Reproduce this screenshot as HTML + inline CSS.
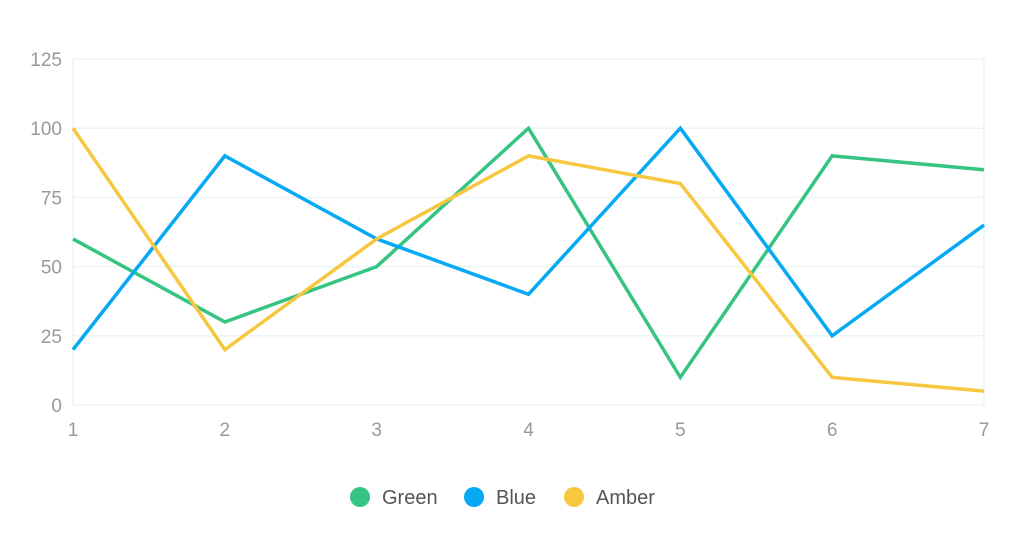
<!DOCTYPE html>
<html><head><meta charset="utf-8"><style>
body{margin:0;background:#fff;width:1034px;height:538px;overflow:hidden}
svg{font-family:"Liberation Sans",sans-serif}
</style></head><body>
<svg id="chart" width="1034" height="538" viewBox="0 0 1034 538"></svg>
<script>
const categories=[1,2,3,4,5,6,7];
const yTicks=[0,25,50,75,100,125];
const greenValues=[60,30,50,100,10,90,85];
const blueValues=[20,90,60,40,100,25,65];
const amberValues=[100,20,60,90,80,10,5];
const seriesNames=["Green","Blue","Amber"];
const seriesColors=["#35c481","#05a9f4","#f6c73f"];
const NS="http://www.w3.org/2000/svg";
const svg=document.getElementById('chart');
const x0=73,x1=984,y0=405,y1=59;
const xs=i=>x0+(x1-x0)*i/(categories.length-1);
const ys=v=>y0-(y0-y1)*v/125;
function mk(t,a){const e=document.createElementNS(NS,t);for(const k in a)e.setAttribute(k,a[k]);svg.appendChild(e);return e;}
yTicks.forEach(v=>{
  const l=mk('line',{x1:x0,x2:x1,y1:ys(v),y2:ys(v),stroke:'#eaf6f6','stroke-width':1.5});
  
  
  const t=mk('text',{x:62,y:ys(v)+7,'text-anchor':'end','font-size':19,fill:'#999'});
  t.textContent=v;
  
  
});
categories.forEach((c,i)=>{
  const l=mk('line',{x1:xs(i),x2:xs(i),y1:y1,y2:y0,stroke:i==0||i==categories.length-1?'#eaf6f6':'none','stroke-width':1.5});
  
  
  const t=mk('text',{x:xs(i),y:436,'text-anchor':'middle','font-size':19,fill:'#999'});
  t.textContent=c;
  
  
});
[greenValues,blueValues,amberValues].forEach((vals,s)=>{
  const p=mk('polyline',{points:vals.map((v,i)=>xs(i)+','+ys(v)).join(' '),fill:'none',stroke:seriesColors[s],'stroke-width':3.5,'stroke-linejoin':'miter'});
  
  
});
const lx=[360,474,574];
seriesNames.forEach((n,s)=>{
  const g=mk('g',{});
  
  
  const c=document.createElementNS(NS,'circle');
  c.setAttribute('cx',lx[s]);c.setAttribute('cy',497);c.setAttribute('r',10);c.setAttribute('fill',seriesColors[s]);
  g.appendChild(c);
  const t=document.createElementNS(NS,'text');
  t.setAttribute('x',lx[s]+22);t.setAttribute('y',504);t.setAttribute('font-size',20);t.setAttribute('fill','#555');
  t.textContent=n;
  g.appendChild(t);
});
</script>
</body></html>
